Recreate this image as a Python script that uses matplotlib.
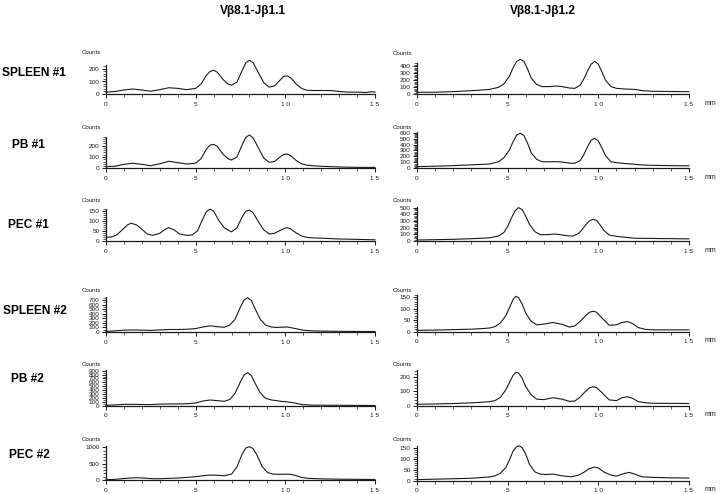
import numpy as np
import matplotlib.pyplot as plt

## DATA (x in mm, y in counts)
#
col_titles = ["V\u03b28.1-J\u03b21.1", "V\u03b28.1-J\u03b21.2"]
row_labels = ["SPLEEN #1", "PB #1", "PEC #1", "SPLEEN #2", "PB #2", "PEC #2"]

# Vb8.1-Jb1.1 column
x_sp1_a = [0, 0.5, 1.0, 1.5, 2.0, 2.5, 3.0, 3.5, 4.0, 4.5, 5.0, 5.3, 5.6, 5.8, 6.0, 6.2, 6.5, 6.8, 7.0, 7.3,
           7.6, 7.8, 8.0, 8.2, 8.5, 8.8, 9.1, 9.4, 9.7, 9.9, 10.1, 10.3, 10.6, 10.9, 11.2, 11.6, 12.0, 12.5,
           13.0, 13.5, 14.0, 14.5, 14.8, 15.0]
y_sp1_a = [15, 20, 32, 40, 32, 22, 35, 50, 45, 35, 45, 80, 150, 180, 190, 175, 120, 80, 70, 95,
           190, 250, 270, 250, 170, 90, 55, 65, 110, 140, 145, 130, 80, 45, 30, 28, 28, 28,
           20, 15, 15, 12, 18, 15]
x_pb1_a = x_sp1_a
y_pb1_a = [15, 18, 35, 45, 35, 23, 40, 62, 50, 38, 45, 85, 170, 205, 212, 195, 130, 85, 73, 100,
           210, 275, 295, 270, 180, 90, 53, 60, 100, 122, 126, 112, 70, 40, 28, 22, 18, 15,
           12, 10, 8, 8, 8, 8]
x_pec1_a = [0, 0.3, 0.6, 0.9, 1.2, 1.4, 1.7, 2.0, 2.3, 2.6, 3.0, 3.3, 3.5, 3.8, 4.1, 4.5, 4.8, 5.1, 5.4, 5.6,
            5.8, 6.0, 6.3, 6.6, 7.0, 7.3, 7.6, 7.8, 8.0, 8.2, 8.5, 8.8, 9.1, 9.4, 9.7, 10.0, 10.1, 10.3,
            10.6, 10.9, 11.2, 11.6, 12.0, 12.5, 13.0, 13.5, 14.0, 14.5, 15.0]
y_pec1_a = [18, 20, 30, 55, 80, 88, 80, 58, 35, 28, 38, 58, 66, 55, 35, 28, 30, 50, 110, 145,
            158, 148, 100, 65, 45, 65, 120, 148, 153, 140, 95, 55, 35, 38, 52, 64, 66, 60,
            40, 25, 18, 15, 14, 12, 10, 9, 8, 7, 6]
x_sp2_a = [0, 0.5, 1, 1.5, 2, 2.5, 3, 3.5, 4, 4.5, 5, 5.4, 5.8, 6.2, 6.6, 6.9, 7.2, 7.5, 7.7, 7.9,
           8.1, 8.3, 8.6, 8.9, 9.2, 9.5, 9.8, 10.1, 10.5, 11, 11.5, 12, 13, 14, 15]
y_sp2_a = [15, 25, 40, 45, 40, 35, 45, 55, 55, 60, 75, 110, 135, 115, 105, 150, 280, 550, 700, 750,
           690, 520, 280, 150, 110, 100, 105, 110, 80, 40, 25, 20, 15, 12, 10]
x_pb2_a = x_sp2_a
y_pb2_a = [10, 20, 35, 35, 30, 30, 40, 45, 45, 50, 70, 120, 147, 130, 113, 160, 320, 620, 790, 850,
           780, 590, 330, 190, 150, 130, 110, 100, 70, 25, 15, 12, 10, 8, 6]
x_pec2_a = [0, 0.5, 1, 1.5, 1.8, 2.2, 2.6, 3, 3.5, 4, 4.5, 5, 5.4, 5.8, 6.2, 6.6, 7, 7.3, 7.6, 7.8,
            8.0, 8.2, 8.4, 8.7, 9.0, 9.3, 9.6, 9.9, 10.2, 10.5, 10.9, 11.3, 12, 13, 14, 15]
y_pec2_a = [10, 20, 45, 65, 70, 55, 40, 40, 50, 60, 80, 100, 130, 150, 145, 130, 180, 400, 800, 980,
            1020, 960, 780, 420, 230, 180, 175, 175, 180, 150, 80, 50, 35, 25, 20, 15]

# Vb8.1-Jb1.2 column
x_sp1_b = [0, 1, 2, 3, 3.5, 4, 4.5, 4.8, 5.1, 5.3, 5.5, 5.7, 5.9, 6.1, 6.3, 6.6, 6.9, 7.3, 7.7, 8.0,
           8.4, 8.7, 9.0, 9.2, 9.4, 9.6, 9.8, 10.0, 10.2, 10.4, 10.7, 11, 11.5, 12, 12.5, 13, 14, 15]
y_sp1_b = [28, 30, 38, 52, 60, 70, 100, 150, 260, 380, 470, 500, 470, 360, 230, 140, 110, 110, 118, 110,
           90, 85, 130, 220, 330, 430, 470, 430, 320, 200, 110, 85, 75, 70, 50, 43, 40, 38]
x_pb1_b = x_sp1_b
y_pb1_b = [28, 35, 45, 58, 65, 72, 110, 180, 310, 450, 560, 590, 550, 420, 260, 150, 110, 110, 112, 105,
           88, 84, 130, 230, 360, 470, 505, 460, 340, 210, 110, 95, 80, 67, 55, 50, 45, 42]
x_pec1_b = [0, 1, 2, 3, 3.5, 4, 4.5, 4.8, 5.0, 5.2, 5.4, 5.6, 5.8, 6.0, 6.2, 6.5, 6.8, 7.2, 7.55, 7.9,
            8.3, 8.6, 8.9, 9.1, 9.3, 9.5, 9.7, 9.9, 10.1, 10.3, 10.6, 11, 11.5, 12, 13, 14, 15]
y_pec1_b = [15, 20, 25, 35, 40, 48, 75, 130, 220, 340, 450, 500, 470, 370, 250, 140, 95, 95, 105, 95,
            78, 75, 110, 170, 240, 300, 325, 310, 240, 160, 90, 70, 55, 42, 38, 35, 32]
x_sp2_b = [0, 1, 2, 3, 3.5, 4, 4.3, 4.6, 4.9, 5.1, 5.3, 5.45, 5.6, 5.8, 6.0, 6.3, 6.6, 7.0, 7.5, 8.0,
           8.4, 8.7, 9.0, 9.3, 9.5, 9.7, 9.9, 10.2, 10.6, 11.0, 11.3, 11.6, 11.9, 12.2, 12.6, 13, 14, 15]
y_sp2_b = [6, 7, 9, 11, 13, 16, 22, 38, 70, 105, 140, 154, 148, 120, 80, 45, 30, 33, 40, 32,
           20, 25, 45, 70, 84, 89, 85, 60, 28, 30, 40, 44, 35, 18, 10, 8, 8, 8]
x_pb2_b = x_sp2_b
y_pb2_b = [10, 12, 15, 20, 23, 28, 35, 58, 110, 160, 210, 230, 225, 190, 130, 75, 45, 42, 55, 45,
           30, 32, 60, 100, 122, 131, 125, 90, 40, 35, 55, 62, 50, 28, 20, 17, 16, 15]
x_pec2_b = [0, 1, 2, 3, 3.5, 4, 4.3, 4.6, 4.9, 5.1, 5.3, 5.5, 5.65, 5.8, 6.0, 6.2, 6.5, 6.8, 7.1, 7.5,
            8.0, 8.5, 8.9, 9.2, 9.5, 9.8, 10.0, 10.3, 10.7, 11.0, 11.4, 11.7, 12.0, 12.4, 13, 14, 15]
y_pec2_b = [5, 7, 9, 11, 14, 17, 22, 34, 60, 95, 135, 155, 158, 150, 120, 75, 40, 30, 28, 30,
            22, 18, 25, 38, 55, 62, 58, 40, 25, 21, 32, 38, 30, 18, 15, 13, 12]

traces = [
    [(x_sp1_a, y_sp1_a), (x_sp1_b, y_sp1_b)],
    [(x_pb1_a, y_pb1_a), (x_pb1_b, y_pb1_b)],
    [(x_pec1_a, y_pec1_a), (x_pec1_b, y_pec1_b)],
    [(x_sp2_a, y_sp2_a), (x_sp2_b, y_sp2_b)],
    [(x_pb2_a, y_pb2_a), (x_pb2_b, y_pb2_b)],
    [(x_pec2_a, y_pec2_a), (x_pec2_b, y_pec2_b)],
]

# y tick labels of each panel
yticks = [
    [[0, 100, 200], [0, 100, 200, 300, 400]],
    [[0, 100, 200], [0, 100, 200, 300, 400, 500, 600]],
    [[0, 50, 100, 150], [0, 100, 200, 300, 400, 500]],
    [list(range(0, 800, 100)), [0, 50, 100, 150]],
    [list(range(0, 1000, 100)), [0, 100, 200]],
    [[0, 500, 1000], [0, 50, 100, 150]],
]

## LAYOUT (pixels of the 720x494 scan)
#
W, H = 720, 494
col_x = [(106, 375), (417, 689)]
# baseline pixel, pixels per 100 counts, top of the y spine (counts), minor step
geom = [
    [(94, 12.5, 235, 20), (94.3, 7.0, 450, 20)],
    [(168.3, 11.3, 280, 20), (168.3, 5.94, 615, 20)],
    [(241, 20.2, 160, 10), (241, 6.67, 515, 20)],
    [(332, 4.57, 760, 50), (331.7, 23.0, 160, 10)],
    [(405.7, 3.89, 920, 50), (405.7, 14.5, 245, 20)],
    [(480, 3.27, 1040, 100), (480.7, 22.0, 157, 10)],
]
row_y = [73, 145, 225, 311, 379, 455]
row_cx = [34, 28, 28, 35, 27, 29]

ink = '#1a1a1a'
label_font = dict(family='Liberation Sans', weight='bold', size=8.6)

fig = plt.figure(figsize=(7.2, 4.94), dpi=100)

for r in range(6):
    for c in range(2):
        x0, x15 = col_x[c]
        base, px100, ytop, ystep = geom[r][c]
        hpx = 44
        ax = fig.add_axes([x0 / W, 1 - base / H, (x15 - x0) / W, hpx / H])
        ax.set_xlim(0, 15)
        ax.set_ylim(0, hpx / px100 * 100)
        ax.patch.set_alpha(0)

        xs, ys = traces[r][c]
        ax.plot(xs, ys, color=ink, lw=0.8, clip_on=False)

        for s in ['top', 'right']:
            ax.spines[s].set_visible(False)
        ax.spines['left'].set_bounds(0, ytop)
        ax.spines['bottom'].set_bounds(0, 15)
        for s in ['left', 'bottom']:
            ax.spines[s].set_color(ink)
            ax.spines[s].set_linewidth(0.9)

        ax.set_xticks([0, 5, 10, 15])
        ax.set_xticklabels(['0', '5', '1 0', '1 5'])
        ax.set_xticks(np.arange(0, 16, 1), minor=True)
        yt = yticks[r][c]
        ax.set_yticks(yt)
        ax.set_yticklabels([str(v) for v in yt])
        ax.set_yticks(np.arange(0, ytop + 1, ystep), minor=True)
        ax.tick_params(axis='both', which='major', length=3, width=0.7, color=ink,
                       labelsize=4.6, labelcolor=ink, pad=1.5)
        ax.tick_params(axis='both', which='minor', length=2, width=0.5, color=ink)
        ax.tick_params(axis='x', which='major', pad=2.5)
        for lab in ax.get_xticklabels() + ax.get_yticklabels():
            lab.set_family('Liberation Sans')

        fig.text((x0 - 15) / W, 1 - (base - 41) / H, 'Counts', fontsize=4.4,
                 family='Liberation Sans', ha='center', va='center', color=ink)
        if c == 1:
            fig.text((x15 + 21) / W, 1 - (base + 9) / H, 'mm', fontsize=5,
                     family='Liberation Sans', ha='center', va='center', color=ink)

for r, lab in enumerate(row_labels):
    fig.text(row_cx[r] / W, 1 - row_y[r] / H, lab, fontdict=label_font,
             ha='center', va='center', color='black')

fig.text(253 / W, 1 - 11 / H, col_titles[0], fontdict=label_font, ha='center', va='center')
fig.text(543 / W, 1 - 11 / H, col_titles[1], fontdict=label_font, ha='center', va='center')

fig.savefig('out.png', dpi=100)
